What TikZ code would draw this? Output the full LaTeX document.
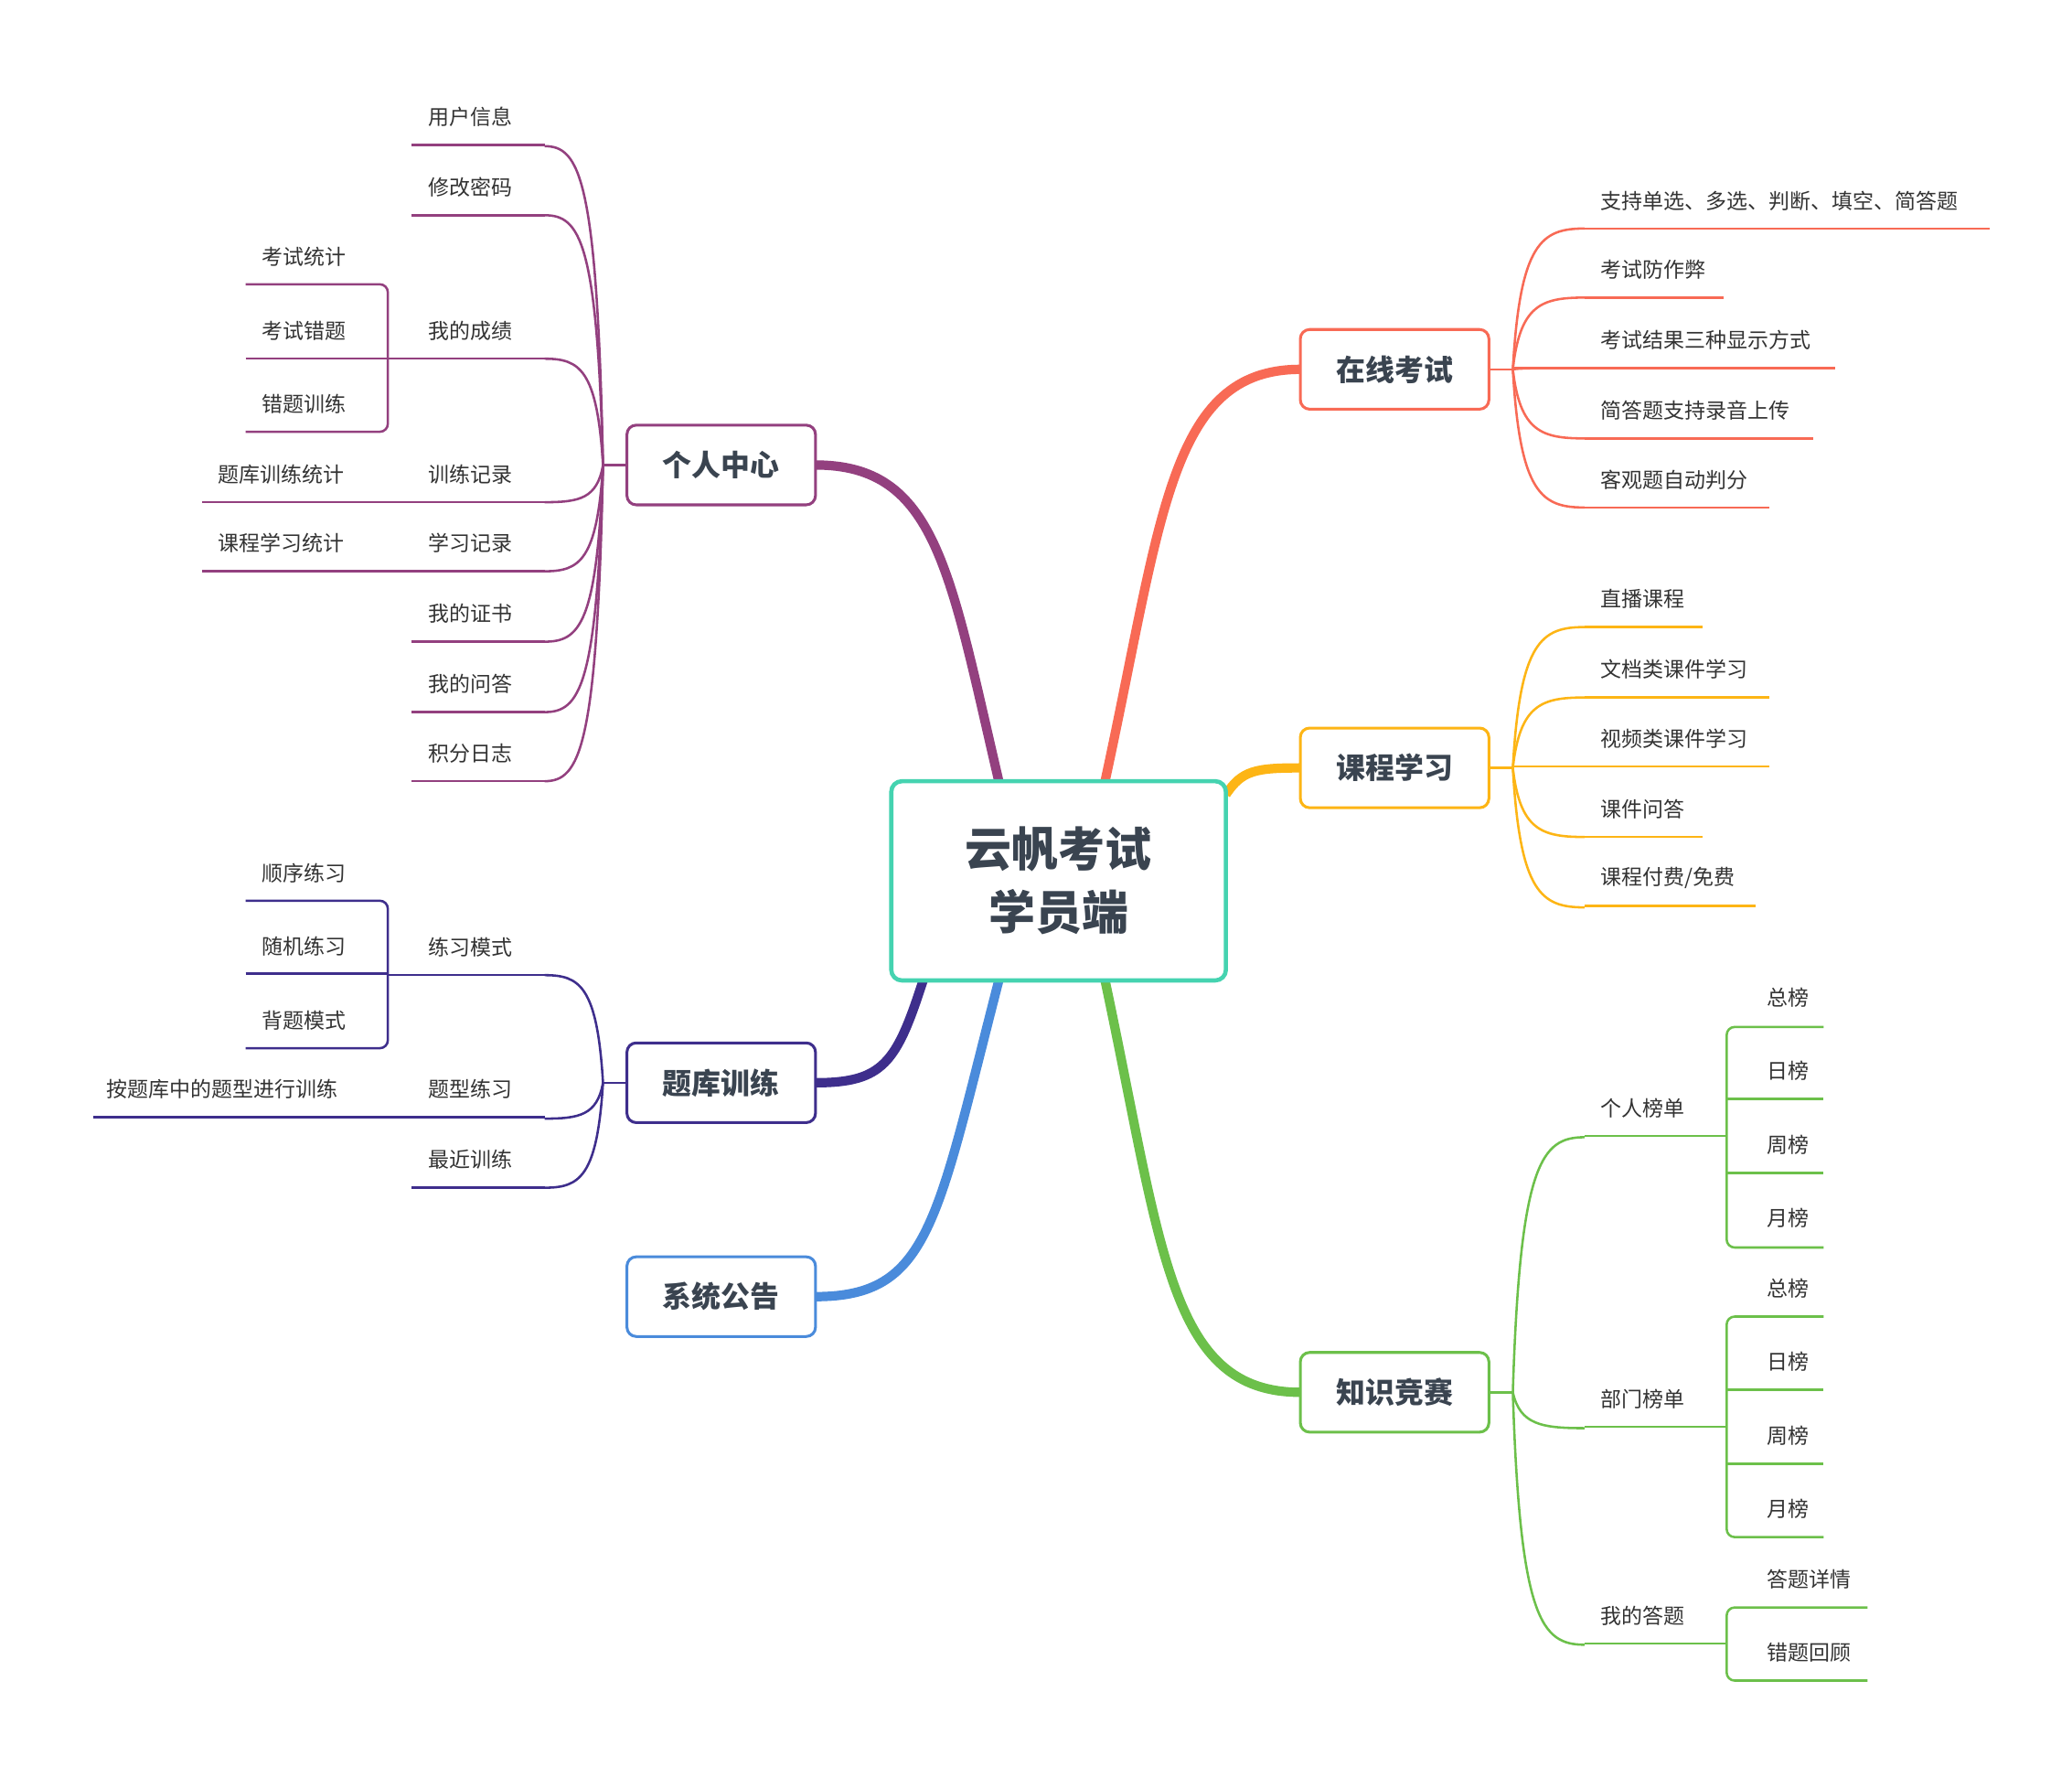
\documentclass[tikz,border=0pt]{standalone}
\usepackage{fontspec}
\setmainfont{Noto Sans CJK SC}
\definecolor{cP}{HTML}{93407F}
\definecolor{cI}{HTML}{3E2E8C}
\definecolor{cB}{HTML}{4A8BDB}
\definecolor{cR}{HTML}{F86A55}
\definecolor{cY}{HTML}{FDB515}
\definecolor{cG}{HTML}{6CC04A}
\definecolor{cT}{HTML}{45D3B0}
\definecolor{tx}{HTML}{333333}
\definecolor{bx}{HTML}{3A4450}
\tikzset{
 txt/.style={font=\fontsize{9}{10}\selectfont,text=tx,anchor=west,inner sep=0},
 box/.style={draw=#1,line width=1.2pt,rounded corners=0.14cm,minimum width=2.84cm,minimum height=1.2cm,font=\fontsize{12.5}{14}\selectfont\bfseries,text=bx,fill=white},
 thick/.style={draw=#1,line width=4pt},
 ln/.style={draw=#1,line width=1pt},
}
\newcommand\lf[6]{\draw[ln=#1] ({#2},{#5+21})--({#3},{#5+21}); \node[txt] at (#4,#5) {#6};}
\newcommand\br[5]{\draw[ln=#1] (#2,#3) .. controls ({#2+(#4-#2)*0.1},{#3+(#5-#3)*0.9}) and ({#2+(#4-#2)*0.4},{#5}) .. (#4,#5);}
\newcommand\brk[5]{\draw[ln=#1,rounded corners=0.12cm] (#3,#4)--(#2,#4)--(#2,#5)--(#3,#5);}
\begin{document}
\begin{tikzpicture}[x=0.02cm,y=-0.02cm]
\useasboundingbox[fill=white] (0,0) rectangle (1560,1330);
% thick connectors
\draw[thick=cP] (752,588) .. controls (715,430) and (705,350) .. (614,350);
\draw[thick=cI] (695,738) .. controls (675,800) and (665,815) .. (614,815);
\draw[thick=cB] (752,738) .. controls (705,920) and (700,976) .. (614,976);
\draw[thick=cR] (832,588) .. controls (875,390) and (880,278) .. (979,278);
\draw[thick=cY] (923,598) .. controls (935,580) and (945,578) .. (979,578);
\draw[thick=cG] (832,738) .. controls (875,940) and (880,1048) .. (979,1048);
\node[draw=cT,line width=1.8pt,rounded corners=0.16cm,minimum width=5.04cm,minimum height=3cm,fill=white,text=bx,font=\fontsize{20}{27}\selectfont\bfseries,align=center] (c) at (797,663) {云帆考试\\学员端};
\node[box=cP] (p) at (543,350) {个人中心};
\node[box=cI] (q) at (543,815) {题库训练};
\node[box=cB] (s) at (543,976) {系统公告};
\node[box=cR] (e) at (1050,278) {在线考试};
\node[box=cY] (k) at (1050,578) {课程学习};
\node[box=cG] (z) at (1050,1048) {知识竞赛};
% 个人中心
\draw[ln=cP] (p.west)--(454,350);
\foreach \y in {110,162,270,378,430,483,536,588} {\br{cP}{454}{350}{410}{\y}}
\lf{cP}{310}{410}{322}{88}{用户信息}
\lf{cP}{310}{410}{322}{141}{修改密码}
\lf{cP}{292}{410}{322}{249}{我的成绩}
\lf{cP}{152}{410}{322}{357}{训练记录}
\lf{cP}{152}{410}{322}{409}{学习记录}
\lf{cP}{310}{410}{322}{462}{我的证书}
\lf{cP}{310}{410}{322}{515}{我的问答}
\lf{cP}{310}{410}{322}{567}{积分日志}
\node[txt] at (164,357) {题库训练统计};
\node[txt] at (164,409) {课程学习统计};
\brk{cP}{292}{185}{214}{325}
\lf{cP}{185}{292}{197}{249}{考试错题}
\node[txt] at (197,193) {考试统计};
\node[txt] at (197,304) {错题训练};
% 题库训练
\draw[ln=cI] (q.west)--(454,815);
\foreach \y in {734,842,894} {\br{cI}{454}{815}{410}{\y}}
\lf{cI}{292}{410}{322}{713}{练习模式}
\lf{cI}{70}{410}{322}{820}{题型练习}
\lf{cI}{310}{410}{322}{873}{最近训练}
\node[txt] at (80,820) {按题库中的题型进行训练};
\brk{cI}{292}{185}{678}{789}
\lf{cI}{185}{292}{197}{712}{随机练习}
\node[txt] at (197,657) {顺序练习};
\node[txt] at (197,768) {背题模式};
% 在线考试
\draw[ln=cR] (e.east)--(1139,278);
\foreach \y in {172,224,277,330,382} {\br{cR}{1139}{278}{1193}{\y}}
\lf{cR}{1193}{1498}{1205}{151}{支持单选、多选、判断、填空、简答题}
\lf{cR}{1193}{1298}{1205}{203}{考试防作弊}
\lf{cR}{1139}{1382}{1205}{256}{考试结果三种显示方式}
\lf{cR}{1193}{1365}{1205}{309}{简答题支持录音上传}
\lf{cR}{1193}{1332}{1205}{361}{客观题自动判分}
% 课程学习
\draw[ln=cY] (k.east)--(1139,578);
\foreach \y in {472,525,630,683} {\br{cY}{1139}{578}{1193}{\y}}
\lf{cY}{1193}{1282}{1205}{451}{直播课程}
\lf{cY}{1193}{1332}{1205}{504}{文档类课件学习}
\lf{cY}{1139}{1332}{1205}{556}{视频类课件学习}
\lf{cY}{1193}{1282}{1205}{609}{课件问答}
\lf{cY}{1193}{1322}{1205}{661}{课程付费/免费}
% 知识竞赛
\draw[ln=cG] (z.east)--(1139,1048);
\foreach \y in {856,1075,1238} {\br{cG}{1139}{1048}{1193}{\y}}
\lf{cG}{1193}{1300}{1205}{834}{个人榜单}
\lf{cG}{1193}{1300}{1205}{1053}{部门榜单}
\lf{cG}{1193}{1300}{1205}{1216}{我的答题}
\brk{cG}{1300}{1373}{773}{939}
\node[txt] at (1330,751) {总榜};
\lf{cG}{1300}{1373}{1330}{806}{日榜}
\lf{cG}{1300}{1373}{1330}{862}{周榜}
\node[txt] at (1330,917) {月榜};
\brk{cG}{1300}{1373}{991}{1157}
\node[txt] at (1330,970) {总榜};
\lf{cG}{1300}{1373}{1330}{1025}{日榜}
\lf{cG}{1300}{1373}{1330}{1081}{周榜}
\node[txt] at (1330,1136) {月榜};
\brk{cG}{1300}{1406}{1210}{1265}
\node[txt] at (1330,1189) {答题详情};
\node[txt] at (1330,1244) {错题回顾};
\end{tikzpicture}
\end{document}
